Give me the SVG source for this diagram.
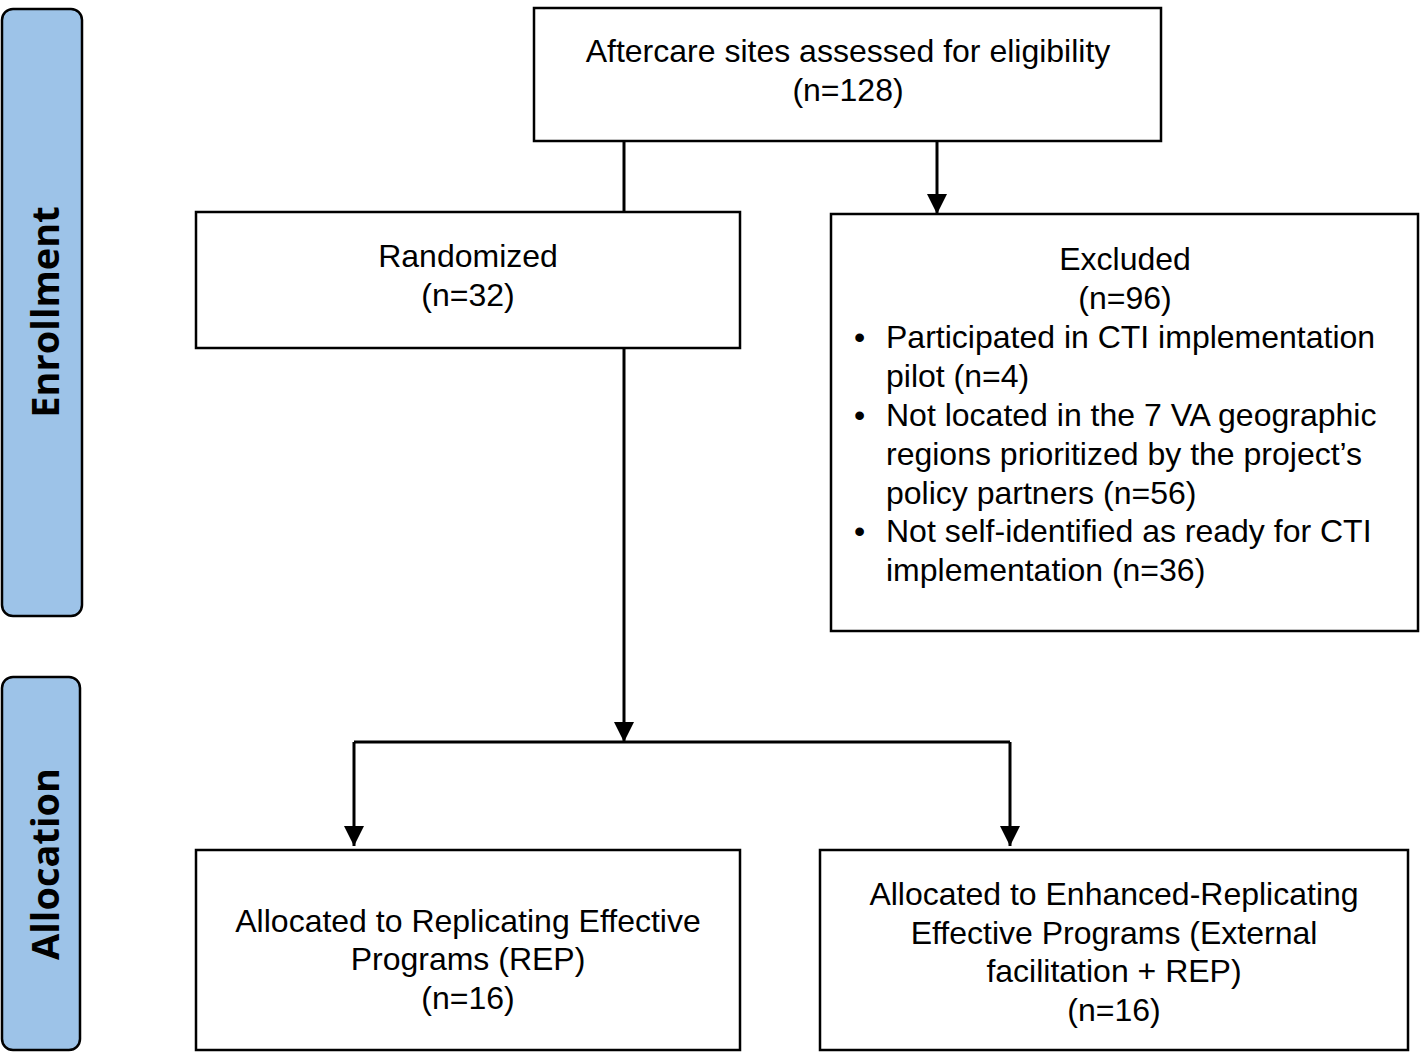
<svg xmlns="http://www.w3.org/2000/svg" width="1424" height="1052" viewBox="0 0 1424 1052">
<defs>
<style>
.box{fill:#fff;stroke:#000;stroke-width:2.5}
.side{fill:#9dc3e8;stroke:#000;stroke-width:2.5}
.t{font-family:"Liberation Sans",Arial,sans-serif;font-size:32px;fill:#000}
.c{text-anchor:middle}
.s{font-family:"Open Sans","Liberation Sans",sans-serif;font-weight:bold;font-size:38px;fill:#000;text-anchor:middle}
.ln{fill:none;stroke:#000;stroke-width:3}
</style>
<marker id="ah" markerWidth="20" markerHeight="20" viewBox="0 0 20 20" refX="20" refY="10" orient="auto" markerUnits="userSpaceOnUse">
<path d="M0,0 L20,10 L0,20 Z" fill="#000"/>
</marker>
</defs>
<rect width="1424" height="1052" fill="#fff"/>
<g id="enrollment">
<rect class="side" x="2" y="9" width="80" height="607" rx="11"/>
<text class="s" transform="translate(59,312) rotate(-90)">Enrollment</text>
</g>
<g id="allocation">
<rect class="side" x="2" y="677" width="78" height="373" rx="11"/>
<text class="s" transform="translate(59,864) rotate(-90)">Allocation</text>
</g>
<g id="assessed">
<rect class="box" x="534" y="8" width="627" height="133"/>
<text class="t c" x="848" y="62">Aftercare sites assessed for eligibility</text>
<text class="t c" x="848" y="101">(n=128)</text>
</g>
<g id="randomized">
<rect class="box" x="196" y="212" width="544" height="136"/>
<text class="t c" x="468" y="267">Randomized</text>
<text class="t c" x="468" y="306">(n=32)</text>
</g>
<g id="excluded">
<rect class="box" x="831" y="214" width="587" height="417"/>
<text class="t c" x="1125" y="270">Excluded</text>
<text class="t c" x="1125" y="309">(n=96)</text>
<text class="t" x="854" y="348">•</text>
<text class="t" x="886" y="348">Participated in CTI implementation</text>
<text class="t" x="886" y="387">pilot (n=4)</text>
<text class="t" x="854" y="426">•</text>
<text class="t" x="886" y="426">Not located in the 7 VA geographic</text>
<text class="t" x="886" y="465">regions prioritized by the project’s</text>
<text class="t" x="886" y="504">policy partners (n=56)</text>
<text class="t" x="854" y="542">•</text>
<text class="t" x="886" y="542">Not self-identified as ready for CTI</text>
<text class="t" x="886" y="581">implementation (n=36)</text>
</g>
<g id="rep">
<rect class="box" x="196" y="850" width="544" height="200"/>
<text class="t c" x="468" y="932">Allocated to Replicating Effective</text>
<text class="t c" x="468" y="970">Programs (REP)</text>
<text class="t c" x="468" y="1009">(n=16)</text>
</g>
<g id="erep">
<rect class="box" x="820" y="850" width="588" height="200"/>
<text class="t c" x="1114" y="905">Allocated to Enhanced-Replicating</text>
<text class="t c" x="1114" y="944">Effective Programs (External</text>
<text class="t c" x="1114" y="982">facilitation + REP)</text>
<text class="t c" x="1114" y="1021">(n=16)</text>
</g>
<g id="connectors">
<path class="ln" d="M624,141 V212"/>
<path class="ln" d="M937,141 V214" marker-end="url(#ah)"/>
<path class="ln" d="M624,348 V742" marker-end="url(#ah)"/>
<path class="ln" d="M354,742 H1010"/>
<path class="ln" d="M354,742 V846" marker-end="url(#ah)"/>
<path class="ln" d="M1010,742 V846" marker-end="url(#ah)"/>
</g>
</svg>
